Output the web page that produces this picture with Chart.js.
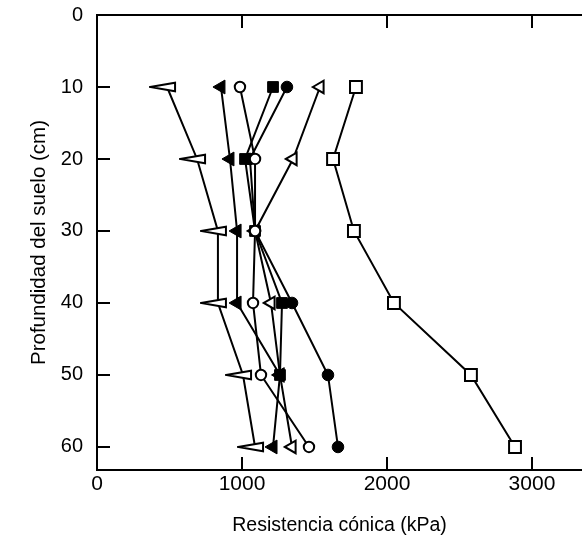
<!DOCTYPE html>
<html>
<head>
<meta charset="utf-8">
<script src="https://cdn.jsdelivr.net/npm/chart.js@4.4.1/dist/chart.umd.min.js"></script>
<style>
  html, body { margin: 0; padding: 0; background: #fff; }
  #wrap { width: 582px; height: 546px; }
</style>
</head>
<body>
<div id="wrap"><canvas id="chart" width="582" height="546"></canvas></div>
<script>
// depth of each reading (cm)
const depths = [10, 20, 30, 40, 50, 60]

// cone resistance (kPa), one list per treatment
const wedgeOpen = [483, 690, 834, 834, 1007, 1090]
const triFilled = [855, 917, 966, 966, 1262, 1214]
const circleOpen = [986, 1090, 1090, 1076, 1131, 1462]
const squareFilled = [1214, 1021, 1090, 1276, 1262]
const circleFilled = [1310, 1055, 1090, 1345, 1593, 1662]
const triOpen = [1538, 1352, 1090, 1200, 1262, 1345]
const squareOpen = [1786, 1628, 1772, 2048, 2579, 2883]

const xTicks = [0, 1000, 2000, 3000]
const yTicks = [0, 10, 20, 30, 40, 50, 60]
const xMax = 3345
const yMax = 63.2

const FONT = "'Liberation Sans', Arial, Helvetica, sans-serif"

const toPoints = (values) => values.map((x, i) => ({ x, y: depths[i] }))

// long thin open wedge pointing left
const makeWedge = () => {
  const c = document.createElement('canvas')
  c.width = 36
  c.height = 12
  const ctx = c.getContext('2d')
  ctx.lineWidth = 2
  ctx.strokeStyle = '#000'
  ctx.fillStyle = '#fff'
  ctx.beginPath()
  ctx.moveTo(1, 6)
  ctx.lineTo(26, 1.8)
  ctx.lineTo(26, 10.2)
  ctx.closePath()
  ctx.fill()
  ctx.stroke()
  return c
}

const series = (values, style) => ({
  data: toPoints(values),
  showLine: true,
  borderColor: '#000',
  borderWidth: 2,
  pointBorderColor: '#000',
  pointBorderWidth: 2,
  pointHoverRadius: 0,
  ...style
})

// first entry is drawn on top
const datasets = [
  series(circleOpen, { pointStyle: 'circle', pointRadius: 5.2, pointBackgroundColor: '#fff' }),
  series(squareFilled, { pointStyle: 'rect', pointRadius: 7.6, pointBackgroundColor: '#000', pointBorderWidth: 1 }),
  series(circleFilled, { pointStyle: 'circle', pointRadius: 5.8, pointBackgroundColor: '#000', pointBorderWidth: 1 }),
  series(triOpen, { pointStyle: 'triangle', pointRotation: -90, pointRadius: 7.2, pointBackgroundColor: '#fff' }),
  series(triFilled, { pointStyle: 'triangle', pointRotation: -90, pointRadius: 8, pointBackgroundColor: '#000', pointBorderWidth: 1 }),
  series(wedgeOpen, { pointStyle: makeWedge(), pointRadius: 8 }),
  series(squareOpen, { pointStyle: 'rect', pointRadius: 8.4, pointBackgroundColor: '#fff' })
]

const setTicks = (values) => (scale) => {
  scale.ticks = values.map((value) => ({ value }))
}

// fix the box size and drop the extra label padding chart.js adds
const fixSize = (key, size) => (scale) => {
  scale[key] = size
  scale.paddingTop = 0
  scale.paddingBottom = 0
  scale.paddingLeft = 0
  scale.paddingRight = 0
}

const inwardGrid = {
  drawOnChartArea: false,
  drawTicks: true,
  tickLength: -13,
  color: '#000',
  lineWidth: 2
}

const axisBorder = { display: true, color: '#000', width: 2 }

new Chart(document.getElementById('chart'), {
  type: 'scatter',
  data: { datasets },
  options: {
    responsive: false,
    animation: false,
    events: [],
    layout: { padding: 0, autoPadding: false },
    plugins: {
      legend: { display: false },
      tooltip: { enabled: false }
    },
    scales: {
      x: {
        type: 'linear',
        position: 'bottom',
        min: 0,
        max: xMax,
        afterBuildTicks: setTicks(xTicks),
        afterFit: fixSize('height', 76),
        grid: inwardGrid,
        border: axisBorder,
        ticks: {
          color: '#000',
          padding: 15,
          maxRotation: 0,
          autoSkip: false,
          callback: (value) => String(value),
          font: { family: FONT, size: 21 }
        },
        title: {
          display: true,
          text: 'Resistencia cónica (kPa)',
          color: '#000',
          padding: { top: 0, bottom: 9 },
          font: { family: FONT, size: 19.5 }
        }
      },
      xTop: {
        type: 'linear',
        position: 'top',
        min: 0,
        max: xMax,
        afterBuildTicks: setTicks(xTicks.slice(1)),
        afterFit: fixSize('height', 15),
        grid: inwardGrid,
        border: axisBorder,
        ticks: { display: false }
      },
      y: {
        type: 'linear',
        position: 'left',
        reverse: true,
        min: 0,
        max: yMax,
        afterBuildTicks: setTicks(yTicks),
        afterFit: fixSize('width', 97),
        grid: inwardGrid,
        border: axisBorder,
        ticks: {
          color: '#000',
          padding: 27,
          autoSkip: false,
          callback: (value) => String(value),
          font: { family: FONT, size: 20 }
        },
        title: {
          display: true,
          text: 'Profundidad del suelo (cm)',
          color: '#000',
          padding: { top: 27, bottom: 0 },
          font: { family: FONT, size: 20.5 }
        }
      }
    }
  }
})
</script>
</body>
</html>
